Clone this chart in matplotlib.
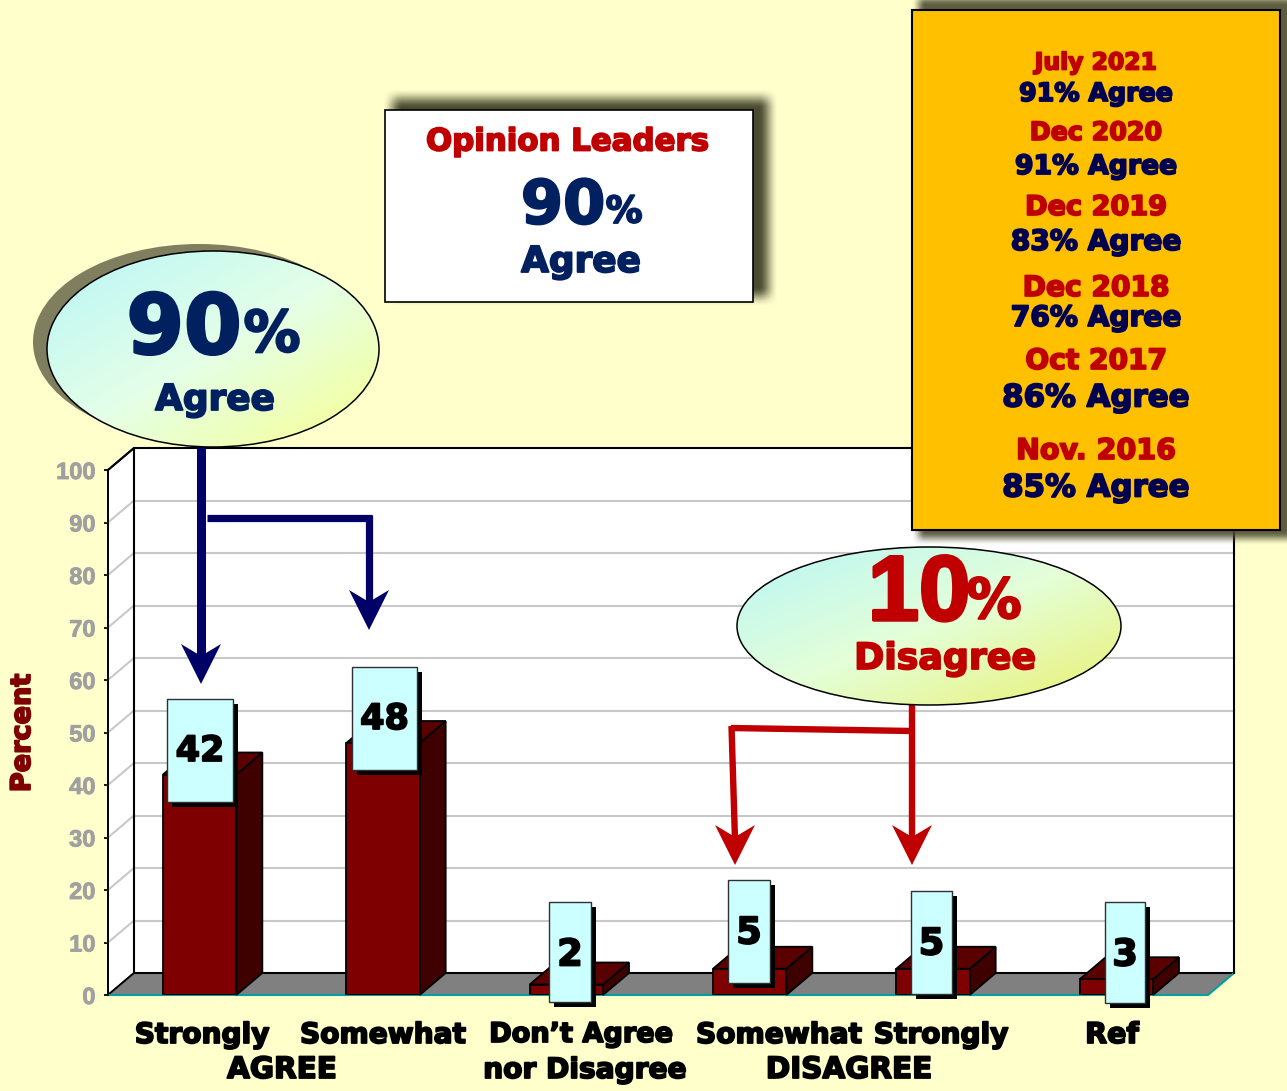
import numpy as np
import matplotlib; matplotlib.use("Agg")
import matplotlib.pyplot as plt
import matplotlib.patheffects as pe
from matplotlib.colors import to_rgb
from matplotlib.patches import Polygon, Rectangle, Ellipse
from matplotlib.transforms import IdentityTransform

# ---- data ----
categories = ["Strongly", "Somewhat", "Don\u2019t Agree", "Somewhat", "Strongly", "Ref"]
values = [42, 48, 2, 5, 5, 3]
yticks = list(range(0, 101, 10))
trend_dates = ["July 2021", "Dec 2020", "Dec 2019", "Dec 2018", "Oct 2017", "Nov. 2016"]
trend_agree = [91, 91, 83, 76, 86, 85]
agree_total = 90
disagree_total = 10

# ---- layout (pixels) ----
W, H = 1287, 1091
DX, DY = 26, 22
BG = "#FFFFCC"; NAVY = "#000066"; BLUE = "#002060"; RED = "#C00000"; MAROON = "#7F0000"
FONT = "DejaVu Sans"
label_boxes = [(167, 699, 66, 103), (352, 667, 65, 103), (549, 902, 42, 100),
               (728, 880, 42, 103), (911, 891, 41, 103), (1105, 902, 40, 101)]
label_text_y = [751, 719, 955, 933, 944, 955]
cat_label_x = [202, 383, 581, 779, 941, 1112]
trend_date_y = [63, 133, 208, 288, 361, 451]
trend_agree_y = [94, 167, 242, 318, 398, 488]
trend_agree_fs = [27.5, 29, 30.5, 30.5, 33.5, 33.5]
trend_date_fs = [25.5, 27.5, 29.5, 30.5, 30.5, 31]
cat_label_fs = [30.5, 30.5, 29.5, 30.5, 30.5, 31]

fig = plt.figure(figsize=(W / 100, H / 100), dpi=100, facecolor=BG)
ax = fig.add_axes([108 / W, 1 - 995 / H, 1100 / W, 525 / H])
ax.set_xlim(-0.5, 5.5); ax.set_ylim(0, 100)
ax.patch.set_visible(False)


def disp(x, y):
    return ax.transData.transform((x, y))


def face(pts, fc, ec="black", lw=1.3, z=1):
    ax.add_patch(Polygon(pts, closed=True, fc=fc, ec=ec, lw=lw, transform=IdentityTransform(),
                         zorder=z, clip_on=False, joinstyle="miter"))


# walls and floor
x0, x1 = -0.5, 5.5
a, b = disp(x0, 0), disp(x1, 0); c, d = disp(x0, 100), disp(x1, 100)
off = np.array([DX, DY])
face([a, a + off, c + off, c], "white", z=1)
face([a + off, b + off, d + off, c + off], "white", z=1)
for v in yticks[1:-1]:
    p = disp(x0, v)
    q = disp(x1, v)
    ax.plot(*zip(p, p + off), color="#C8C8C8", lw=1.5, transform=IdentityTransform(), zorder=2, clip_on=False)
    ax.plot(*zip(p + off, q + off), color="#C8C8C8", lw=1.5, transform=IdentityTransform(), zorder=2, clip_on=False)
face([a, b, b + off, a + off], "#808080", ec="none", z=2)
ax.plot(*zip(a + off, b + off), color="black", lw=1.5, transform=IdentityTransform(), zorder=3, clip_on=False)
ax.plot(*zip(a, a + off), color="black", lw=1.3, transform=IdentityTransform(), zorder=3, clip_on=False)
ax.plot(*zip(a, b, b + off), color="#00A0A0", lw=1.5, transform=IdentityTransform(), zorder=3, clip_on=False)
ax.plot(*zip(c, c + off, d + off, b + off), color="black", lw=1.5, transform=IdentityTransform(), zorder=3, clip_on=False)
ax.plot(*zip(a + off, c + off), color="black", lw=1.5, transform=IdentityTransform(), zorder=3, clip_on=False)

# bars
bw = 0.4
xs = np.arange(len(values))
ax.bar(xs, values, width=bw, color=MAROON, edgecolor="black", linewidth=1.3, zorder=5)
for xv, v in zip(xs, values):
    l, r = xv - bw / 2, xv + bw / 2
    face([disp(r, 0), disp(r, 0) + off, disp(r, v) + off, disp(r, v)], "#3F0000", z=4)
    face([disp(l, v), disp(r, v), disp(r, v) + off, disp(l, v) + off], "#5A0000", z=4)

ax.set_xticks([])
ax.set_yticks(yticks)
for s in ["top", "right", "bottom"]:
    ax.spines[s].set_visible(False)
ax.spines["left"].set_linewidth(1.3); ax.spines["left"].set_zorder(4)
ax.tick_params(axis="y", length=3, width=1.3, pad=6, labelcolor="#A0A0A0", labelsize=17)
for t in ax.get_yticklabels():
    t.set_fontfamily("Liberation Sans"); t.set_fontweight("bold")
    t.set_path_effects([pe.withStroke(linewidth=0.6, foreground="#A0A0A0")])

# ---- overlay in pixel coords: callouts, boxes, arrows, text ----
ov = fig.add_axes([0, 0, 1, 1], zorder=10)
ov.set_xlim(0, W); ov.set_ylim(H, 0); ov.axis("off")


def txt(x, y, s, px, color="black", stroke=1.3, font=FONT, **kw):
    t = ov.text(x, y, s, fontsize=px * 0.72 * 0.92, color=color, family=font, fontweight="bold",
                ha=kw.pop("ha", "center"), va=kw.pop("va", "center"), **kw)
    t.set_path_effects([pe.withStroke(linewidth=stroke, foreground=color)])
    return t


def soft_shadow(l, t, r, bt, blur, color, alpha=1.0):
    pad = blur + 2
    xx = np.arange(l - pad, r + pad); yy = np.arange(t - pad, bt + pad)
    def edge(u, lo, hi):
        s = np.clip((u - lo + blur / 2) / blur, 0, 1) * np.clip((hi - u + blur / 2) / blur, 0, 1)
        return s * s * (3 - 2 * s)
    al = np.outer(edge(yy, t, bt), edge(xx, l, r)) * alpha
    img = np.zeros(al.shape + (4,))
    img[..., :3] = to_rgb(color); img[..., 3] = al
    ov.imshow(img, extent=(l - pad, r + pad, bt + pad, t - pad), aspect="auto", zorder=1, interpolation="bilinear")


def gradient_ellipse(cx, cy, rx, ry, c1, cm, c2, z=3):
    n = 200
    u, v = np.meshgrid(np.linspace(0, 1, n), np.linspace(0, 1, n))
    s = np.clip((u + v) / 2, 0, 1)[..., None]
    c1, cm, c2 = np.array(to_rgb(c1)), np.array(to_rgb(cm)), np.array(to_rgb(c2))
    img = np.where(s < 0.5, c1 + (cm - c1) * s * 2, cm + (c2 - cm) * (s - 0.5) * 2)
    e = Ellipse((cx, cy), 2 * rx, 2 * ry, fc="none", ec="black", lw=1.1, zorder=z + 0.1)
    ov.add_patch(e)
    im = ov.imshow(img, extent=(cx - rx, cx + rx, cy + ry, cy - ry), aspect="auto", zorder=z)
    im.set_clip_path(e)


def arrow_head(x, tip, color, z=6):
    ov.add_patch(Polygon([(x, tip), (x - 20, tip - 40), (x, tip - 28), (x + 20, tip - 40)],
                         closed=True, fc=color, ec="none", zorder=z))


# opinion leaders box
soft_shadow(392, 98, 768, 296, 20, "#4A4A30")
ov.add_patch(Rectangle((385, 110), 368, 192, fc="white", ec="black", lw=1.2, zorder=2))
txt(568, 142, "Opinion Leaders", 33.5, RED, zorder=3)
txt(563, 207, str(agree_total), 66, BLUE, stroke=1.5, zorder=3)
txt(624, 212, "%", 40, BLUE, zorder=3)
txt(581, 262, "Agree", 39, BLUE, zorder=3)

# trend box
soft_shadow(918, -2, 1292, 538, 14, "#4A4A30", alpha=0.9)
ov.add_patch(Rectangle((912, 10), 368, 520, fc="#FFC000", ec="black", lw=1.5, zorder=2))
for d, y, fs in zip(trend_dates, trend_date_y, trend_date_fs):
    txt(1096, y, d, fs, RED, zorder=3)
for p, y, fs in zip(trend_agree, trend_agree_y, trend_agree_fs):
    txt(1096, y, f"{p}% Agree", fs, "#000050", zorder=3)

# agree arrows
ov.plot([200.5, 200.5], [440, 660], color=NAVY, lw=6.5, solid_capstyle="butt", zorder=2.5)
arrow_head(201, 684, NAVY)
ov.plot([207, 372], [517.5, 517.5], color=NAVY, lw=5.2, solid_capstyle="butt", zorder=2.5)
ov.plot([369, 369], [515, 605], color=NAVY, lw=5.2, solid_capstyle="butt", zorder=2.5)
arrow_head(369, 630, NAVY)

# disagree arrows
ov.plot([912, 912], [700, 840], color=RED, lw=4.6, solid_capstyle="butt", zorder=2.5)
arrow_head(912, 865, RED)
ov.plot([912, 731], [731, 728], color=RED, lw=4.6, solid_capstyle="butt", zorder=2.5)
ov.plot([731.5, 735], [726, 840], color=RED, lw=4.6, solid_capstyle="butt", zorder=2.5)
arrow_head(735, 865, RED)

# callouts
ov.add_patch(Ellipse((199, 342), 332, 196, fc="#7F7F60", ec="none", zorder=2.8))
gradient_ellipse(213, 349, 166, 98, "#B8F6F6", "#E4FFE8", "#F8FF90")
txt(184, 330, str(agree_total), 90, BLUE, stroke=2, zorder=4)
txt(272, 336, "%", 62, BLUE, stroke=1.5, zorder=4)
txt(215, 400, "Agree", 39, BLUE, zorder=4)

gradient_ellipse(929, 626, 192, 79, "#B8F6F6", "#E4FFD8", "#EAF070")
txt(919, 596, str(disagree_total), 100, RED, stroke=2.5, font="Liberation Sans", zorder=4)
txt(994, 603, "%", 60, RED, stroke=1.5, zorder=4)
txt(945, 659, "Disagree", 39.5, RED, zorder=4)

# value labels
for v, (l, t, w, h), ty in zip(values, label_boxes, label_text_y):
    ov.add_patch(Rectangle((l + 5, t + 5), w, h, fc="black", ec="none", zorder=5))
    ov.add_patch(Rectangle((l, t), w, h, fc="#CCFFFF", ec="#303030", lw=1, zorder=5.1))
    txt(l + w / 2, ty, str(v), 38 if v > 9 else 40, "black", zorder=5.2)

# axis and category text
for x, s, fs in zip(cat_label_x, categories, cat_label_fs):
    txt(x, 1035, s, fs, "black")
txt(282, 1070, "AGREE", 32, "black")
txt(585, 1070, "nor Disagree", 30.5, "black")
txt(849, 1070, "DISAGREE", 32, "black")
txt(23, 733, "Percent", 29.5, MAROON, rotation=90)

ov.set_xlim(0, W); ov.set_ylim(H, 0)
fig.savefig("out.png", dpi=100, facecolor=BG)
